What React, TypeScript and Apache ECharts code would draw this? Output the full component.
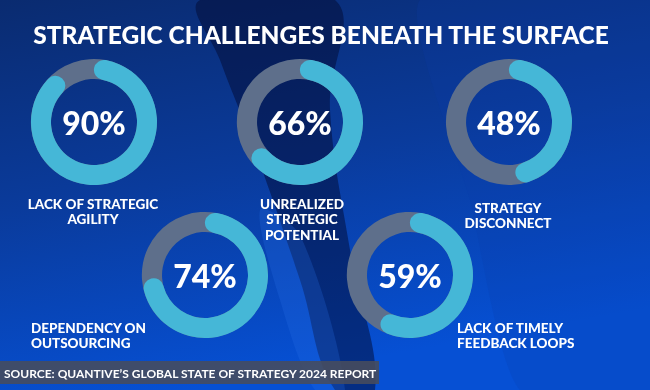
import React, { useEffect, useRef } from "react";
import * as echarts from "echarts";

const title = "STRATEGIC CHALLENGES BENEATH THE SURFACE";
const categories = [
  "LACK OF STRATEGIC\nAGILITY",
  "UNREALIZED\nSTRATEGIC\nPOTENTIAL",
  "STRATEGY\nDISCONNECT",
  "DEPENDENCY ON\nOUTSOURCING",
  "LACK OF TIMELY\nFEEDBACK LOOPS",
];
const values = [90, 66, 48, 74, 59];
const source = "SOURCE: QUANTIVE\u2019S GLOBAL STATE OF STRATEGY 2024 REPORT";

const CYAN = "#45b7d7";
const TRACK = "#5e6f8b";
const FONT = "Lato, 'Open Sans', sans-serif";

// layout only
const RADIUS = 63;
const WIDTH = 20;
const centers: [number, number][] = [
  [94, 122],
  [300, 122],
  [509, 122],
  [205, 275],
  [410, 275],
];
const labelPos: { x: number; y: number; align: "center" | "left" }[] = [
  { x: 93, y: 196, align: "center" },
  { x: 302, y: 196, align: "center" },
  { x: 508, y: 200, align: "center" },
  { x: 31, y: 320, align: "left" },
  { x: 457, y: 320, align: "left" },
];

export default function App() {
  const ref = useRef<HTMLDivElement>(null);
  useEffect(() => {
    if (!ref.current) return;
    const chart = echarts.init(ref.current, null, { renderer: "svg" });
    // keep the round caps inside the arc: angle taken by one cap
    const capDeg = ((WIDTH / 2) / (RADIUS - WIDTH / 2)) * (180 / Math.PI);
    const series = values.map((v, i) => {
      const span = 3.6 * v - 2 * capDeg;
      const maxVal = (v * 360) / span;
      return {
        type: "gauge",
        center: centers[i],
        radius: RADIUS,
        startAngle: 90 - capDeg,
        endAngle: 90 - capDeg - 360,
        min: 0,
        max: maxVal,
        z: 5,
        pointer: { show: false },
        anchor: { show: false },
        axisTick: { show: false },
        splitLine: { show: false },
        axisLabel: { show: false },
        axisLine: { lineStyle: { width: WIDTH, color: [[1, TRACK]] } },
        progress: { show: true, width: WIDTH, roundCap: true, itemStyle: { color: CYAN } },
        title: { show: false },
        detail: {
          offsetCenter: [0, 0],
          formatter: "{value}%",
          color: "#ffffff",
          fontSize: 32,
          fontWeight: 900,
          fontFamily: FONT,
        },
        data: [{ value: v, name: categories[i] }],
      };
    });
    const labels = categories.map((c, i) => ({
      type: "text",
      x: labelPos[i].x,
      y: labelPos[i].y,
      z: 20,
      style: {
        text: c,
        fill: "#ffffff",
        font: `900 13.5px ${FONT}`,
        lineHeight: 15.5,
        align: labelPos[i].align,
        verticalAlign: "top",
      },
    }));
    chart.setOption({
      animation: false,
      graphic: [
        {
          type: "rect",
          z: -10,
          shape: { x: 0, y: 0, width: 650, height: 390 },
          style: {
            fill: new echarts.graphic.LinearGradient(0, 0, 0.3, 1, [
              { offset: 0, color: "#0a2b70" },
              { offset: 0.5, color: "#0a3b9c" },
              { offset: 1, color: "#0650d4" },
            ]),
          },
        },
        {
          type: "polygon",
          z: -9,
          shape: {
            points: [
              [200, 0], [335, 0], [330, 110], [350, 250], [375, 390],
              [335, 390], [300, 280], [255, 150], [220, 60],
            ],
            smooth: 0.4,
          },
          style: { fill: "rgba(2,10,50,0.5)" },
        },
        {
          type: "polygon",
          z: -9,
          shape: {
            points: [[260, 210], [300, 235], [345, 390], [315, 390], [280, 300]],
            smooth: 0.3,
          },
          style: { fill: "rgba(40,110,230,0.25)" },
        },
        {
          type: "polygon",
          z: -9,
          shape: {
            points: [[420, 0], [650, 0], [650, 390], [520, 390], [470, 200]],
            smooth: 0.2,
          },
          style: { fill: "rgba(10,60,170,0.2)" },
        },
        {
          type: "text",
          x: 321,
          y: 34,
          z: 20,
          style: {
            text: title,
            fill: "#ffffff",
            font: `900 24.5px ${FONT}`,
            align: "center",
            verticalAlign: "middle",
          },
        },
        ...labels,
        {
          type: "rect",
          z: 15,
          shape: { x: 0, y: 361, width: 379, height: 23 },
          style: { fill: "rgba(72,76,92,0.88)" },
        },
        {
          type: "text",
          x: 4,
          y: 373,
          z: 20,
          style: {
            text: source,
            fill: "#ffffff",
            font: `bold 12px ${FONT}`,
            align: "left",
            verticalAlign: "middle",
          },
        },
      ],
      series,
    });
    return () => chart.dispose();
  }, []);
  return (
    <div
      ref={ref}
      style={{ position: "fixed", left: 0, top: 0, width: 650, height: 390 }}
    />
  );
}
